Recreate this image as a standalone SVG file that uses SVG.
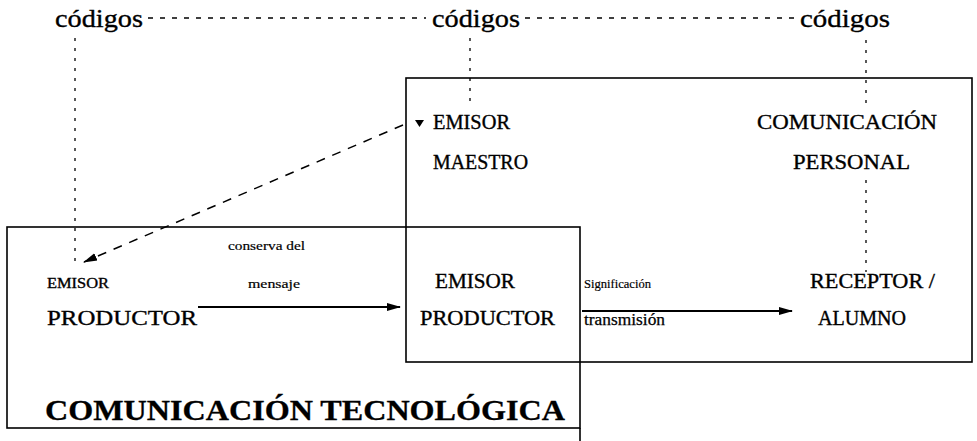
<svg xmlns="http://www.w3.org/2000/svg" width="977" height="441" viewBox="0 0 977 441">
<style>
text{font-family:"Liberation Serif","Times New Roman",serif;fill:#000;stroke:#000;stroke-width:0.35}
.lbl{font-size:20px}
.sm{font-size:13px;stroke-width:0.2}
.cod{font-size:26px}
.box{fill:none;stroke:#000;stroke-width:1.6}
.arr{stroke:#000;stroke-width:1.8;fill:none}
.dash{stroke:#000;stroke-width:1.3;fill:none;stroke-dasharray:5 7}
.ldash{stroke:#000;stroke-width:1.5;fill:none;stroke-dasharray:9 8}
.dot{stroke:#000;stroke-width:1.3;fill:none;stroke-dasharray:3 7}
.big{font-size:29px;font-weight:bold;stroke-width:0.3}
</style>
<defs>
<marker id="ah" markerWidth="14" markerHeight="10" refX="13" refY="5" orient="auto" markerUnits="userSpaceOnUse">
<path d="M0,1 L14,5 L0,9 Z" fill="#000"/>
</marker>
</defs>
<g id="box-personal"><rect class="box" x="406" y="78" width="566" height="284"/></g>
<g id="box-tecnologica"><rect class="box" x="7" y="227" width="573" height="201"/><line class="box" x1="580" y1="428" x2="580" y2="441"/></g>
<g id="codigos-1"><text class="cod" x="55" y="27" textLength="88" lengthAdjust="spacingAndGlyphs">códigos</text></g>
<g id="codigos-2"><text class="cod" x="432" y="27" textLength="88" lengthAdjust="spacingAndGlyphs">códigos</text></g>
<g id="codigos-3"><text class="cod" x="800" y="27" textLength="90" lengthAdjust="spacingAndGlyphs">códigos</text></g>
<g id="emisor-maestro">
<text class="lbl" x="433" y="129" textLength="77" lengthAdjust="spacingAndGlyphs">EMISOR</text>
<text class="lbl" x="433" y="169" textLength="95" lengthAdjust="spacingAndGlyphs">MAESTRO</text>
</g>
<g id="comunicacion-personal">
<text class="lbl" x="757" y="129" textLength="180" lengthAdjust="spacingAndGlyphs">COMUNICACIÓN</text>
<text class="lbl" x="793" y="169" textLength="117" lengthAdjust="spacingAndGlyphs">PERSONAL</text>
</g>
<g id="emisor-productor-1">
<text x="47" y="288" style="font-size:15px" textLength="62" lengthAdjust="spacingAndGlyphs">EMISOR</text>
<text x="47" y="325" style="font-size:21px" textLength="150" lengthAdjust="spacingAndGlyphs">PRODUCTOR</text>
</g>
<g id="emisor-productor-2">
<text class="lbl" x="435" y="288" textLength="80" lengthAdjust="spacingAndGlyphs">EMISOR</text>
<text class="lbl" x="420" y="325" textLength="135" lengthAdjust="spacingAndGlyphs">PRODUCTOR</text>
</g>
<g id="receptor-alumno">
<text class="lbl" x="810" y="288" textLength="125" lengthAdjust="spacingAndGlyphs">RECEPTOR /</text>
<text class="lbl" x="818" y="325" textLength="88" lengthAdjust="spacingAndGlyphs">ALUMNO</text>
</g>
<g id="titulo-tecnologica"><text class="big" x="45" y="420" textLength="520" lengthAdjust="spacingAndGlyphs">COMUNICACIÓN TECNOLÓGICA</text></g>
<g id="connectors">
<line class="dash" x1="148" y1="18" x2="426" y2="18"/>
<line class="dash" x1="525" y1="18" x2="796" y2="18"/>
<line class="dot" x1="75" y1="38" x2="75" y2="262"/>
<line class="dot" x1="470" y1="38" x2="470" y2="106"/>
<line class="dot" x1="866" y1="40" x2="866" y2="108"/>
<line class="dot" x1="866" y1="180" x2="866" y2="272"/>
<line class="ldash" x1="403" y1="125" x2="84" y2="262" marker-end="url(#ah)"/>
<path d="M415,120 L424,120 L419.5,127 Z" fill="#000"/>
<line class="arr" x1="198" y1="307" x2="400" y2="307" marker-end="url(#ah)"/>
<text class="sm" x="228" y="250" textLength="77" lengthAdjust="spacingAndGlyphs">conserva del</text>
<text class="sm" x="248" y="288" textLength="52" lengthAdjust="spacingAndGlyphs">mensaje</text>
<line class="arr" x1="582" y1="311" x2="792" y2="311" marker-end="url(#ah)"/>
<text class="sm" x="584" y="288" textLength="67" lengthAdjust="spacingAndGlyphs">Significación</text>
<text x="584" y="325" style="font-size:16px;stroke-width:0.25" textLength="81" lengthAdjust="spacingAndGlyphs">transmisión</text>
</g>
</svg>
